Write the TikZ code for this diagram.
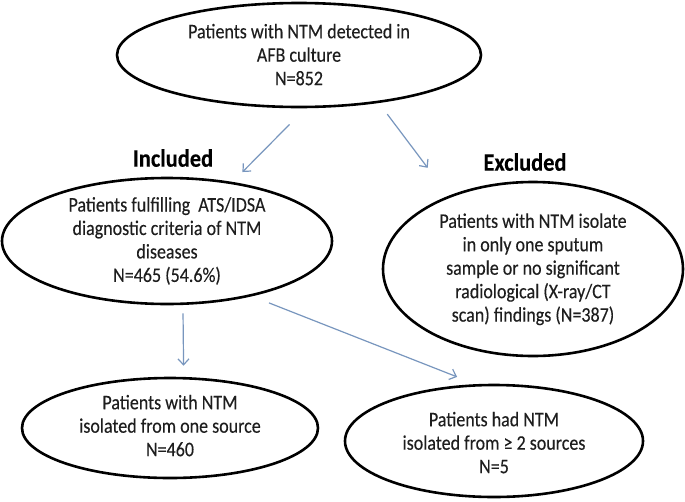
\documentclass[tikz,border=0pt]{standalone}
\usepackage{fontspec}
\setmainfont{Carlito}[FakeBold=0.25]
\usepackage{graphicx}
\usetikzlibrary{arrows.meta,shapes.geometric}
\definecolor{arrowblue}{RGB}{120,150,190}
\definecolor{txt}{RGB}{30,30,30}
\newcommand\ovaltext[2][0pt]{\raisebox{-#1}[\height][\depth]{\scalebox{1}[1.15]{\begin{tabular}{@{}c@{}}#2\end{tabular}}}}
\newcommand\headtext[1]{\scalebox{1}[1.12]{#1}}
\begin{document}
\begin{tikzpicture}[x=1pt,y=-1pt,
  oval/.style={ellipse, draw=black, line width=2.6pt, inner sep=-8pt, text=txt,
    font=\fontsize{18}{20.4}\selectfont},
  head/.style={font=\bfseries\fontsize{22.4}{26}\selectfont, text=black, inner sep=0pt},
  flow/.style={draw=arrowblue, line width=1.2pt, -{Straight Barb[length=6pt,width=11pt]}}]
\fill[white] (0,0) rectangle (685,501);
\useasboundingbox (0,0) rectangle (685,501);

\node[oval, minimum width=364pt, minimum height=104pt] (top) at (299,55)
  {\ovaltext[2pt]{Patients with NTM detected in\\AFB culture\\N=852}};
\node[oval, minimum width=330pt, minimum height=126pt] (inc) at (167,241)
  {\ovaltext[1pt]{Patients fulfilling~ ATS/IDSA\\diagnostic criteria of NTM\\diseases\\N=465 (54.6\%)}};
\node[oval, minimum width=300pt, minimum height=174pt] (exc) at (533,269)
  {\ovaltext[1pt]{Patients with NTM isolate\\in only one sputum\\sample or no significant\\radiological (X-ray/CT\\scan) findings (N=387)}};
\node[oval, minimum width=296pt, minimum height=100pt] (bl) at (170,428)
  {\ovaltext{Patients with NTM\\isolated from one source\\N=460}};
\node[oval, minimum width=298pt, minimum height=112pt] (br) at (494,441)
  {\ovaltext[4pt]{Patients had NTM\\isolated from ≥ 2 sources\\N=5}};

\node[head] (inclabel) at (173,158) {\headtext{Included}};
\node[head] (exclabel) at (525,162) {\headtext{Excluded}};

\draw[flow, shorten <=22.8pt, shorten >=13.9pt] (top.277.8) -- (inc.42.6);
\draw[flow, shorten <=14pt, shorten >=34.9pt] (top.329.6) -- (exc.139.6);
\draw[flow, shorten <=8.3pt, shorten >=11.2pt] (inc.284.3) -- (bl.75.4);
\draw[flow, shorten <=18.2pt, shorten >=19.8pt] (inc.327.2) -- (br.108.5);
\end{tikzpicture}
\end{document}
